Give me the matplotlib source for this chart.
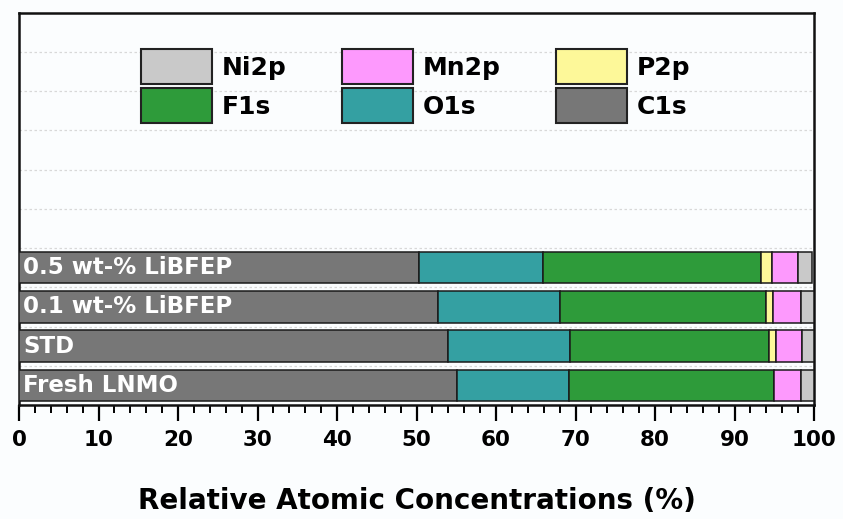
import matplotlib
matplotlib.use("Agg")
import matplotlib.pyplot as plt
from matplotlib.patches import Patch
import numpy as np

# ---- data ----
samples = ["Fresh LNMO", "STD", "0.1 wt-% LiBFEP", "0.5 wt-% LiBFEP"]
elements = ["C1s", "O1s", "F1s", "P2p", "Mn2p", "Ni2p"]
c1s = [55.05, 54.0, 52.7, 50.3]
o1s = [14.15, 15.35, 15.3, 15.6]
f1s = [25.8, 24.95, 26.0, 27.4]
p2p = [0.0, 0.9, 0.9, 1.4]
mn2p = [3.4, 3.3, 3.5, 3.3]
ni2p = [1.6, 1.5, 1.6, 1.75]
x_ticks = [0, 10, 20, 30, 40, 50, 60, 70, 80, 90, 100]

series = [c1s, o1s, f1s, p2p, mn2p, ni2p]
colors = {"C1s": "#777777", "O1s": "#34a0a2", "F1s": "#2e9b3a",
          "P2p": "#fdf899", "Mn2p": "#fd99fd", "Ni2p": "#c9c9c9"}

plt.rcParams["font.family"] = ["DejaVu Sans"]
plt.rcParams["font.weight"] = "bold"

W, H = 843, 519
fig = plt.figure(figsize=(W / 100, H / 100), dpi=100)
bg = "#fbfdfe"
fig.patch.set_facecolor(bg)
ax = fig.add_axes([19 / W, 114 / H, 795 / W, 392.5 / H])
ax.set_facecolor(bg)

ypos = np.arange(len(samples))
left = np.zeros(len(samples))
for name, vals in zip(elements, series):
    vals = np.array(vals)
    ax.barh(ypos, vals, left=left, height=0.8, color=colors[name],
            edgecolor="#1a1a1a", linewidth=1.1, zorder=3)
    left = left + vals

for y, s in zip(ypos, samples):
    ax.text(0.5, y, s, color="white", fontsize=16.5, fontweight="bold",
            va="center", ha="left", zorder=5)

ax.set_xlim(0, 100)
ax.set_ylim(-0.5, 9.5)
ax.set_xticks(x_ticks)
ax.set_xticklabels([str(t) for t in x_ticks], fontsize=15.5, fontweight="bold")
ax.set_xticks(np.arange(0, 101, 2), minor=True)
ax.tick_params(axis="x", which="major", direction="out", length=11.5, width=1.6, pad=6.5)
ax.tick_params(axis="x", which="minor", direction="out", length=6, width=1.4)
ax.set_yticks(np.arange(0.5, 9.0, 1.0))
ax.tick_params(axis="y", length=0, labelleft=False)
ax.grid(axis="y", linestyle=(0, (2, 2)), color="#d8d8d8", linewidth=0.9, zorder=0)
ax.set_axisbelow(True)
for sp in ax.spines.values():
    sp.set_linewidth(1.8)
    sp.set_color("#111111")

ax.set_xlabel("Relative Atomic Concentrations (%)", fontsize=20, fontweight="bold", labelpad=27)

# legend (row-wise order Ni2p, Mn2p, P2p / F1s, O1s, C1s, with column-major filling)
leg_order = ["Ni2p", "F1s", "Mn2p", "O1s", "P2p", "C1s"]
handles = [Patch(facecolor=colors[n], edgecolor="#222222", linewidth=1.5) for n in leg_order]
fs = 25.0
fig.legend(handles, leg_order, ncol=3, loc="upper left",
           bbox_to_anchor=(141 / W, 1 - 49 / H), frameon=False,
           borderpad=0, borderaxespad=0, handlelength=71 / fs, handleheight=1.777,
           handletextpad=0.4, columnspacing=2.2, labelspacing=0.16,
           prop={"size": 18, "weight": "bold"})

fig.savefig("out.png", dpi=100, facecolor=bg)
